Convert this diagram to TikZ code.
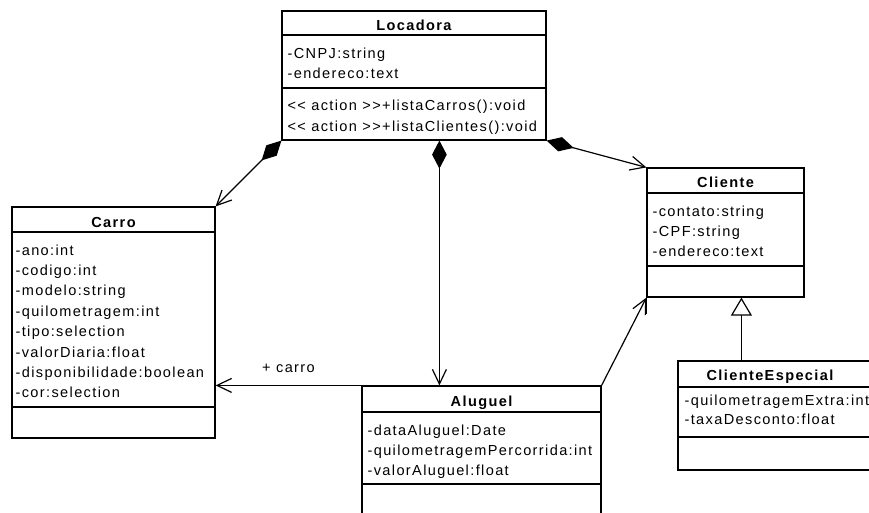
\documentclass[tikz,border=0pt]{standalone}
\usepackage{fontspec}
\setmainfont{Liberation Sans}[LetterSpace=9.5,Ligatures=TeXOff]
\usetikzlibrary{arrows.meta,fit}

\begin{document}
\begin{tikzpicture}[x=0.75pt,y=-0.75pt,line width=0.9pt,
  font=\fontsize{10.9}{12}\selectfont,
  classbox/.style={draw,inner sep=0pt},
  attr/.style={anchor=base west,inner sep=0pt},
  ctitle/.style={anchor=base,inner sep=0pt,font=\fontsize{10.9}{12}\selectfont\bfseries},
  opentip/.tip={Straight Barb[length=11pt,width=10.5pt]},
  assoc/.style={-opentip},
  comp/.style={{Diamond[length=21pt,width=11pt]}-opentip},
  gen/.style={{Triangle[open,length=13.5pt,width=15.75pt,fill=white]}-}]

\useasboundingbox (0,0) rectangle (869,512);
\clip (0,0) rectangle (869,512);
\fill[white] (0,0) rectangle (869,512);

% ---------- Locadora ----------
\node[classbox,fit={(282,11) (546,140)}] (loc) {};
\node[ctitle] (locT) at (414,30.5) {Locadora};
\draw (282,35) -- (546,35);
\draw (282,88) -- (546,88);
\node[attr] (loc1) at (287,58.5) {-CNPJ:string};
\node[attr] (loc2) at (287,78.5) {-endereco:text};
\node[attr] (loc3) at (287,110.5) {<< action >>+listaCarros():void};
\node[attr] (loc4) at (287,131) {<< action >>+listaClientes():void};

% ---------- Carro ----------
\node[classbox,fit={(12,207) (215,438)}] (carro) {};
\node[ctitle] (carT) at (113.5,227.5) {Carro};
\draw (12,232) -- (215,232);
\draw (12,407) -- (215,407);
\foreach \t [count=\i from 0] in {-ano:int,-codigo:int,-modelo:string,
  -quilometragem:int,-tipo:selection,-valorDiaria:float,
  -disponibilidade:boolean,-cor:selection}
  \node[attr] (car\i) at (15,255+20.4*\i) {\t};

% ---------- Cliente ----------
\node[classbox,fit={(647,168) (804,297)}] (cli) {};
\node[ctitle] (cliT) at (725.5,187.5) {Cliente};
\draw (647,193) -- (804,193);
\draw (647,266) -- (804,266);
\node[attr] (cli1) at (652,216) {-contato:string};
\node[attr] (cli2) at (652,236) {-CPF:string};
\node[attr] (cli3) at (652,256) {-endereco:text};
\draw (cli.south west) -- ++(0,16);

% ---------- ClienteEspecial ----------
\node[classbox,fit={(678,361) (880,470)}] (cesp) {};
\node[ctitle] (cespT) at (770,380.5) {ClienteEspecial};
\draw (678,387) -- (880,387);
\draw (678,437) -- (880,437);
\node[attr] (cesp1) at (684,405) {-quilometragemExtra:int};
\node[attr] (cesp2) at (684,424) {-taxaDesconto:float};

% ---------- Aluguel ----------
\node[classbox,fit={(362,386) (601,530)}] (alug) {};
\node[ctitle] (alugT) at (481.5,406.5) {Aluguel};
\draw (362,412) -- (601,412);
\draw (362,484) -- (601,484);
\node[attr] (alu1) at (367,435) {-dataAluguel:Date};
\node[attr] (alu2) at (367,455) {-quilometragemPercorrida:int};
\node[attr] (alu3) at (367,475) {-valorAluguel:float};

% ---------- Relations ----------
\draw[comp] (loc.south west) -- (carro.north east);
\draw[comp] ([xshift=118.5pt]loc.south west) -- ([xshift=58.5pt]alug.north west);
\draw[comp] (loc.south east) -- (cli.north west);
\draw[assoc] (alug.north west) -- (carro.east |- alug.north west)
  node[midway,above=9pt,inner sep=0pt] (lbl) {+ carro};
\draw[assoc] (alug.north east) -- (cli.south west);
\draw[gen] ([xshift=71.25pt]cli.south west) -- ([xshift=48pt]cesp.north west);
\end{tikzpicture}
\end{document}
